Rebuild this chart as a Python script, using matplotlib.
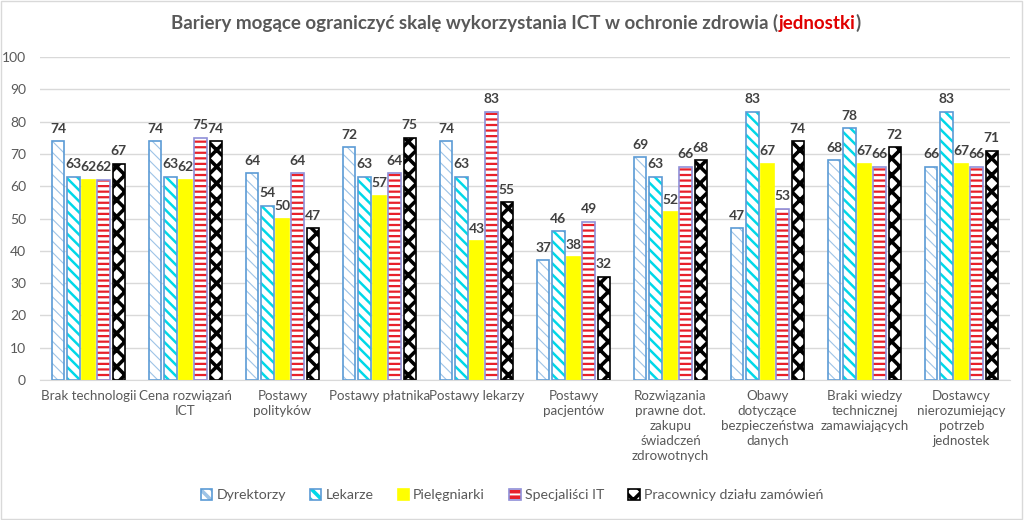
import matplotlib.pyplot as plt
import matplotlib as mpl
import numpy as np

plt.rcParams['font.family'] = ['Lato', 'DejaVu Sans']

categories = ['Brak technologii', 'Cena rozwiązań\nICT', 'Postawy\npolityków',
              'Postawy płatnika', 'Postawy lekarzy', 'Postawy\npacjentów',
              'Rozwiązania\nprawne dot.\nzakupu\nświadczeń\nzdrowotnych',
              'Obawy\ndotyczące\nbezpieczeństwa\ndanych',
              'Braki wiedzy\ntechnicznej\nzamawiających',
              'Dostawcy\nnierozumiejący\npotrzeb\njednostek']
series = ['Dyrektorzy', 'Lekarze', 'Pielęgniarki', 'Specjaliści IT', 'Pracownicy działu zamówień']
dyrektorzy = [74, 74, 64, 72, 74, 37, 69, 47, 68, 66]
lekarze = [63, 63, 54, 63, 63, 46, 63, 83, 78, 83]
pielegniarki = [62, 62, 50, 57, 43, 38, 52, 67, 67, 67]
specjalisci = [62, 75, 64, 64, 83, 49, 66, 53, 66, 66]
pracownicy = [67, 74, 47, 75, 55, 32, 68, 74, 72, 71]

values = [dyrektorzy, lekarze, pielegniarki, specjalisci, pracownicy]
styles = [
    dict(facecolor='white', edgecolor='#5b9bd5', hatch='\\\\\\', hcolor='#9dc3e6', hlw=0.8),
    dict(facecolor='white', edgecolor='#5b9bd5', hatch='\\\\\\', hcolor='#00d8e8', hlw=1.8),
    dict(facecolor='#ffff00', edgecolor='#ffff00', hatch=None, hcolor='#ffff00', hlw=1.0),
    dict(facecolor='white', edgecolor='#8f8fd8', hatch='---', hcolor='#e8202a', hlw=1.6),
    dict(facecolor='white', edgecolor='black', hatch='xx', hcolor='black', hlw=2.6),
]

fig = plt.figure(figsize=(10.24, 5.2), dpi=100)
ax = fig.add_axes([40 / 1024, 140 / 520, 970 / 1024, 323 / 520])
fig.patches.append(mpl.patches.Rectangle((0.001, 0.002), 0.997, 0.996, transform=fig.transFigure,
                                         fill=False, edgecolor='#d9d9d9', linewidth=1))

x = np.arange(len(categories))
width = 0.125
step = 0.155
for i, (vals, st, name) in enumerate(zip(values, styles, series)):
    pos = x + (i - 2) * step
    plt.rcParams['hatch.color'] = st['hcolor']
    plt.rcParams['hatch.linewidth'] = st['hlw']
    bars = ax.bar(pos, vals, width, facecolor=st['facecolor'], edgecolor=st['edgecolor'],
                  hatch=st['hatch'], linewidth=1.2, label=name)
    for b in bars:
        b._hatch_color = mpl.colors.to_rgba(st['hcolor'])
    for p, v in zip(pos, vals):
        ax.text(p, v + 2, str(v), ha='center', va='bottom', fontsize=10,
                fontweight='bold', color='#404040')

ax.set_ylim(0, 100)
ax.set_xlim(-0.5, len(categories) - 0.5)
ax.set_yticks(range(0, 101, 10))
ax.yaxis.grid(True, color='#d9d9d9', linewidth=1)
ax.set_axisbelow(True)
for s in ['top', 'right', 'left']:
    ax.spines[s].set_visible(False)
ax.spines['bottom'].set_color('#d9d9d9')
ax.tick_params(axis='y', length=0, labelsize=10, labelcolor='#595959', pad=10)
ax.tick_params(axis='x', length=0, labelsize=9.6, labelcolor='#595959', pad=7)
ax.set_xticks(x)
ax.set_xticklabels(categories, linespacing=1.3)

ax.legend(loc='center', bbox_to_anchor=(472 / 970, (520 - 495 - 140) / 323), ncol=5, frameon=False,
          fontsize=10.2, labelcolor='#595959', handlelength=0.8, handleheight=0.8,
          columnspacing=1.7, handletextpad=0.3)

# title with red part
t1 = 'Bariery mogące ograniczyć skalę wykorzystania ICT w ochronie zdrowia ('
t2 = 'jednostki'
t3 = ')'
kw = dict(fontsize=13.5, fontweight='bold', va='center')
fig.canvas.draw()
r = fig.canvas.get_renderer()
parts = [(t1, '#595959'), (t2, '#e00000'), (t3, '#595959')]
texts = [fig.text(0, 0.955, s, color=c, **kw) for s, c in parts]
widths = [t.get_window_extent(r).width for t in texts]
total = sum(widths)
xpix = 516 - total / 2
for t, w in zip(texts, widths):
    t.set_x(xpix / 1024)
    xpix += w

fig.savefig('out.png', dpi=100)
